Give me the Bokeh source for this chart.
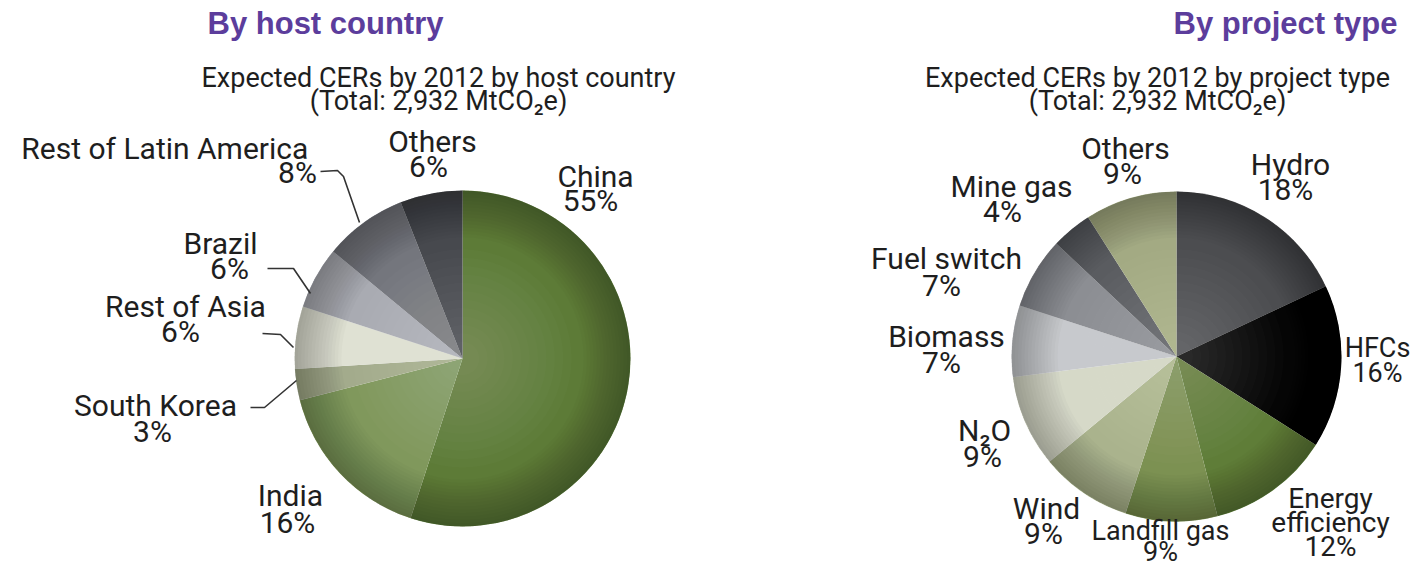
import numpy as np
from bokeh.plotting import figure
from bokeh.embed import file_html
from bokeh.resources import INLINE
from bokeh.core.properties import value

# ---------------- data ----------------
country_names = ["China", "India", "South Korea", "Rest of Asia", "Brazil",
                 "Rest of Latin  America", "Others"]
country_pct = [55, 16, 3, 6, 6, 8, 6]

type_names = ["Hydro", "HFCs", "Energy efficiency", "Landfill gas", "Wind",
              "N₂O", "Biomass", "Fuel switch", "Mine gas", "Others"]
type_pct = [18, 16, 12, 9, 9, 9, 7, 7, 4, 9]

# ---------------- styles / layout ----------------
country_colors = ["#5d7b37", "#80985c", "#a3ab8c", "#dfe1d3", "#a9abb2",
                  "#74767d", "#47494e"]
type_colors = ["#4c4d50", "#050505", "#5f7d38", "#7c9152", "#aab38d",
               "#d6d9c8", "#c7c9cd", "#8c8e93", "#5a5c60", "#a3aa83"]

W, H = 1411, 568


def X(px):
    return px


def Y(py):
    return H - py


p = figure(width=W, height=H, x_range=(0, W), y_range=(0, H),
           output_backend="svg", toolbar_location=None, min_border=0)
p.axis.visible = False
p.grid.visible = False
p.outline_line_color = None
p.background_fill_color = "white"
p.border_fill_color = "white"

FONT = "Roboto"
TXT = "#1e1e1e"


def pie(cx, cy, r, pcts, colors):
    frac = np.array(pcts, dtype=float) / sum(pcts)
    cum = np.concatenate([[0], np.cumsum(frac)])
    start = np.pi / 2 - cum[:-1] * 2 * np.pi
    end = np.pi / 2 - cum[1:] * 2 * np.pi
    p.wedge(x=X(cx), y=Y(cy), radius=r, start_angle=start, end_angle=end,
            direction="clock", fill_color=colors, line_color=None)
    # lighten the centre a little
    for k in range(12):
        p.circle(x=X(cx), y=Y(cy), radius=r * (0.1 + 0.05 * k),
                 fill_color="white", fill_alpha=0.014, line_color=None)
    # darken the rim
    for k in range(14):
        p.annulus(x=X(cx), y=Y(cy), inner_radius=r * (0.72 + 0.02 * k),
                  outer_radius=r, fill_color="black", fill_alpha=0.018,
                  line_color=None)


pie(462, 358, 168, country_pct, country_colors)
pie(1176, 356, 165, type_pct, type_colors)


def lab(txt, px, py, size="30px", color=TXT, font=FONT, style="normal",
        align="center"):
    p.text(x=[X(px)], y=[Y(py)], text=[txt], text_font=value(font),
           text_font_size=size, text_color=color, text_align=align,
           text_baseline="middle", text_font_style=style)


# titles
PURPLE = "#5c3d9c"
lab("By host country", 325, 23, size="31px", color=PURPLE,
    font="Liberation Sans", style="bold")
lab("By project type", 1285, 23, size="31px", color=PURPLE,
    font="Liberation Sans", style="bold")

lab("Expected CERs by 2012 by host country", 438, 77, size="27px")
lab("(Total: 2,932 MtCO₂e)", 438, 100, size="27px")
lab("Expected CERs by 2012 by project type", 1157, 77, size="27px")
lab("(Total: 2,932 MtCO₂e)", 1157, 100, size="27px")

# left pie labels
left_name_pos = [(595, 176), (290, 495), (155, 405), (185, 306), (220, 243),
                 (168, 148), (432, 141)]
left_pct_pos = [(590, 200), (287, 522), (152, 431), (180, 331), (229, 268),
                (297, 172), (428, 166)]
for n, v, (nx, ny), (vx, vy) in zip(country_names, country_pct,
                                    left_name_pos, left_pct_pos):
    lab(n, nx, ny)
    lab(f"{v}%", vx, vy)

# leader lines
leaders = [
    [(320, 171), (337, 170), (343, 176), (359, 222)],
    [(267, 268), (293, 268), (310, 293)],
    [(262, 333), (280, 334), (293, 347)],
    [(250, 407), (264, 407), (296, 380)],
]
for pts in leaders:
    p.line(x=[X(a) for a, b in pts], y=[Y(b) for a, b in pts],
           line_color="#333333", line_width=1.6)

# right pie labels
right_name_pos = [(1290, 164), (1377, 347), None, (1160, 530), (1046, 508),
                  (984, 430), (946, 336), (946, 258), (1011, 186), (1125, 148)]
right_pct_pos = [(1285, 189), (1377, 372), (1330, 546), (1160, 551),
                 (1043, 533), (982, 456), (941, 362), (941, 285), (1002, 211),
                 (1122, 173)]
right_sizes = ["30px", "27px", "28px", "27px", "30px", "30px", "30px", "30px",
               "30px", "30px"]
for n, v, npos, (vx, vy), sz in zip(type_names, type_pct, right_name_pos,
                                    right_pct_pos, right_sizes):
    if npos is None:
        first, second = n.split(" ")
        lab(first, 1330, 498, size=sz)
        lab(second, 1330, 522, size=sz)
    else:
        lab(n, npos[0], npos[1], size=sz)
    lab(f"{v}%", vx, vy, size=sz)

open("out.html", "w").write(file_html(p, INLINE))
